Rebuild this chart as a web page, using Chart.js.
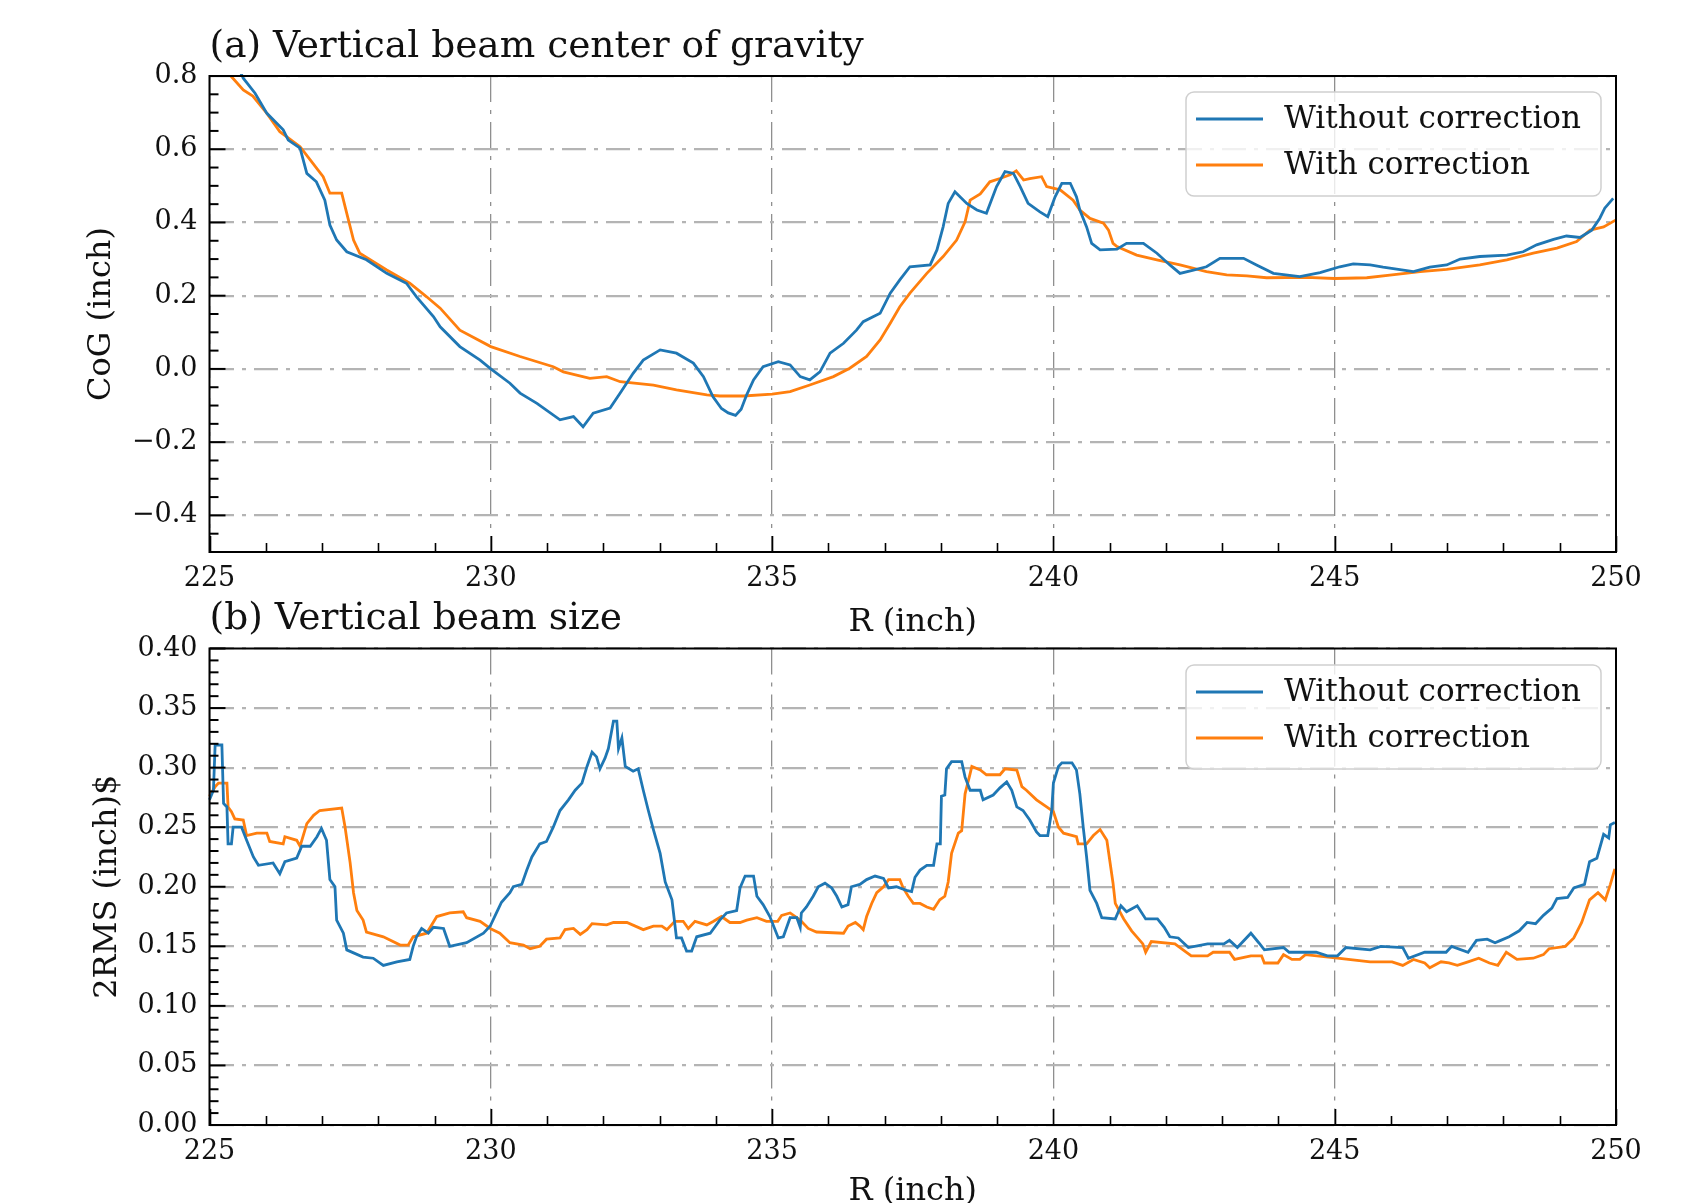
<!DOCTYPE html>
<html lang="en">

<head>
    <meta charset="UTF-8">
    <title>Vertical beam CoG and size vs R</title>
    <script src="https://cdn.jsdelivr.net/npm/chart.js"></script>
    <style>
        body { margin: 0; background: #fff; overflow: hidden; }
        #painel { position: relative; width: 1700px; height: 1203px; }
        canvas { position: absolute; left: 0; }
    </style>
</head>

<body>
    <div id="painel">
        <canvas id="chartCog" width="1700" height="650" style="top:0"></canvas>
        <canvas id="chartSize" width="1700" height="603" style="top:600px"></canvas>
    </div>

<script>
    // axis ticks
    const rTicks = [225, 230, 235, 240, 245, 250];
    const cogTicks = [-0.4, -0.2, 0.0, 0.2, 0.4, 0.6, 0.8];
    const sizeTicks = [0.00, 0.05, 0.10, 0.15, 0.20, 0.25, 0.30, 0.35, 0.40];

    const labelWithout = "Without correction";
    const labelWith = "With correction";

    // (a) vertical centre of gravity, [R, CoG] in inch
    const cogWithout = [
        [225.40, 0.860], [225.60, 0.794], [225.81, 0.753], [226.02, 0.698], [226.31, 0.653], [226.40, 0.625],
        [226.61, 0.603], [226.73, 0.534], [226.90, 0.511], [227.05, 0.461], [227.14, 0.393], [227.26, 0.352],
        [227.44, 0.320], [227.79, 0.298], [228.15, 0.261], [228.50, 0.234], [228.68, 0.197], [228.98, 0.143],
        [229.10, 0.115], [229.45, 0.061], [229.81, 0.024], [230.00, 0.000], [230.34, -0.039], [230.52, -0.066],
        [230.82, -0.094], [231.23, -0.139], [231.47, -0.130], [231.64, -0.158], [231.82, -0.121], [232.12, -0.107],
        [232.30, -0.066], [232.53, -0.012], [232.71, 0.024], [233.01, 0.052], [233.30, 0.043], [233.60, 0.016],
        [233.78, -0.021], [233.95, -0.076], [234.10, -0.108], [234.22, -0.120], [234.35, -0.127], [234.45, -0.110],
        [234.55, -0.070], [234.67, -0.030], [234.84, 0.006], [235.11, 0.020], [235.32, 0.011], [235.50, -0.021],
        [235.67, -0.030], [235.85, -0.008], [236.03, 0.043], [236.27, 0.070], [236.50, 0.106], [236.62, 0.129],
        [236.92, 0.152], [237.10, 0.207], [237.27, 0.243], [237.45, 0.279], [237.81, 0.284], [237.93, 0.325],
        [238.04, 0.388], [238.13, 0.452], [238.25, 0.484], [238.46, 0.452], [238.64, 0.434], [238.81, 0.425],
        [238.99, 0.498], [239.14, 0.539], [239.29, 0.534], [239.41, 0.498], [239.55, 0.452], [239.76, 0.429],
        [239.90, 0.416], [240.03, 0.470], [240.15, 0.507], [240.30, 0.507], [240.41, 0.470], [240.47, 0.434],
        [240.59, 0.388], [240.68, 0.343], [240.83, 0.325], [241.13, 0.327], [241.30, 0.343], [241.60, 0.343],
        [241.84, 0.316], [242.07, 0.284], [242.25, 0.261], [242.49, 0.270], [242.72, 0.279], [242.96, 0.302],
        [243.38, 0.302], [243.61, 0.284], [243.91, 0.261], [244.38, 0.252], [244.74, 0.263], [245.09, 0.279],
        [245.33, 0.287], [245.63, 0.284], [245.86, 0.278], [246.40, 0.266], [246.69, 0.278], [246.99, 0.284],
        [247.23, 0.300], [247.58, 0.307], [248.06, 0.311], [248.35, 0.320], [248.59, 0.339], [248.89, 0.354],
        [249.12, 0.363], [249.36, 0.359], [249.57, 0.379], [249.71, 0.411], [249.80, 0.439], [249.95, 0.466]
    ];
    const cogWith = [
        [225.38, 0.800], [225.60, 0.762], [225.77, 0.745], [226.02, 0.698], [226.25, 0.648], [226.61, 0.607],
        [226.79, 0.571], [227.02, 0.525], [227.14, 0.480], [227.35, 0.480], [227.44, 0.425], [227.56, 0.352],
        [227.67, 0.316], [228.15, 0.270], [228.56, 0.234], [228.86, 0.197], [229.10, 0.166], [229.45, 0.106],
        [230.00, 0.061], [230.52, 0.034], [231.11, 0.006], [231.29, -0.008], [231.76, -0.026], [232.06, -0.021],
        [232.30, -0.035], [232.89, -0.044], [233.30, -0.057], [233.84, -0.071], [234.07, -0.074], [234.49, -0.074],
        [235.00, -0.069], [235.32, -0.062], [235.67, -0.044], [236.09, -0.021], [236.38, 0.002], [236.68, 0.034],
        [236.92, 0.079], [237.10, 0.125], [237.27, 0.170], [237.45, 0.207], [237.75, 0.261], [238.04, 0.307],
        [238.28, 0.352], [238.43, 0.402], [238.52, 0.461], [238.70, 0.478], [238.87, 0.511], [239.05, 0.520],
        [239.23, 0.530], [239.34, 0.541], [239.47, 0.516], [239.58, 0.520], [239.79, 0.525], [239.88, 0.498],
        [240.12, 0.489], [240.35, 0.461], [240.47, 0.434], [240.65, 0.411], [240.89, 0.398], [240.98, 0.379],
        [241.06, 0.343], [241.13, 0.334], [241.48, 0.311], [241.84, 0.298], [242.25, 0.284], [242.72, 0.266],
        [243.08, 0.257], [243.44, 0.254], [243.79, 0.249], [244.50, 0.250], [245.00, 0.247], [245.57, 0.249],
        [245.98, 0.256], [246.52, 0.266], [246.99, 0.272], [247.58, 0.284], [248.06, 0.298], [248.53, 0.316],
        [248.95, 0.330], [249.30, 0.348], [249.54, 0.379], [249.78, 0.388], [250.00, 0.407]
    ];

    // (b) vertical beam size, [R, 2RMS] in inch
    const sizeWithout = [
        [225.00, 0.273], [225.07, 0.281], [225.10, 0.319], [225.22, 0.319], [225.25, 0.270], [225.31, 0.267],
        [225.33, 0.236], [225.39, 0.236], [225.42, 0.250], [225.57, 0.250], [225.66, 0.239], [225.78, 0.225],
        [225.87, 0.218], [226.13, 0.220], [226.25, 0.211], [226.34, 0.221], [226.55, 0.224], [226.64, 0.234],
        [226.79, 0.234], [226.91, 0.242], [226.99, 0.249], [227.08, 0.239], [227.14, 0.206], [227.23, 0.200],
        [227.26, 0.172], [227.38, 0.161], [227.44, 0.147], [227.73, 0.141], [227.91, 0.140], [228.09, 0.134],
        [228.33, 0.137], [228.56, 0.139], [228.62, 0.150], [228.68, 0.158], [228.77, 0.165], [228.89, 0.161],
        [228.98, 0.166], [229.16, 0.165], [229.27, 0.150], [229.57, 0.153], [229.87, 0.161], [229.99, 0.167],
        [230.10, 0.178], [230.19, 0.187], [230.34, 0.195], [230.40, 0.200], [230.55, 0.202], [230.64, 0.214],
        [230.73, 0.225], [230.87, 0.236], [230.99, 0.238], [231.11, 0.250], [231.23, 0.264], [231.38, 0.273],
        [231.50, 0.281], [231.62, 0.287], [231.71, 0.301], [231.80, 0.313], [231.88, 0.309], [231.94, 0.299],
        [232.03, 0.308], [232.09, 0.316], [232.18, 0.339], [232.24, 0.339], [232.27, 0.316], [232.33, 0.325],
        [232.39, 0.301], [232.53, 0.297], [232.62, 0.299], [232.71, 0.281], [232.80, 0.264], [232.89, 0.248],
        [233.01, 0.228], [233.10, 0.204], [233.22, 0.189], [233.30, 0.157], [233.39, 0.157], [233.48, 0.146],
        [233.57, 0.146], [233.66, 0.158], [233.90, 0.161], [234.07, 0.172], [234.19, 0.178], [234.37, 0.180],
        [234.43, 0.199], [234.52, 0.209], [234.67, 0.209], [234.73, 0.192], [234.84, 0.185], [234.96, 0.175],
        [235.11, 0.157], [235.20, 0.158], [235.32, 0.174], [235.44, 0.174], [235.50, 0.166], [235.52, 0.178],
        [235.61, 0.183], [235.73, 0.192], [235.82, 0.200], [235.94, 0.203], [236.06, 0.199], [236.15, 0.192],
        [236.24, 0.183], [236.35, 0.185], [236.41, 0.200], [236.56, 0.202], [236.68, 0.206], [236.83, 0.209],
        [236.98, 0.207], [237.07, 0.199], [237.21, 0.200], [237.39, 0.197], [237.48, 0.196], [237.54, 0.208],
        [237.63, 0.214], [237.75, 0.218], [237.87, 0.218], [237.93, 0.236], [237.99, 0.236], [238.01, 0.276],
        [238.07, 0.277], [238.10, 0.299], [238.19, 0.305], [238.37, 0.305], [238.43, 0.292], [238.52, 0.281],
        [238.70, 0.281], [238.75, 0.273], [238.93, 0.277], [239.05, 0.283], [239.17, 0.288], [239.26, 0.281],
        [239.35, 0.267], [239.46, 0.264], [239.58, 0.256], [239.70, 0.246], [239.76, 0.243], [239.90, 0.243],
        [239.97, 0.264], [240.00, 0.287], [240.09, 0.301], [240.15, 0.304], [240.33, 0.304], [240.41, 0.298],
        [240.47, 0.278], [240.53, 0.250], [240.59, 0.225], [240.65, 0.197], [240.77, 0.186], [240.86, 0.174],
        [241.10, 0.173], [241.20, 0.184], [241.30, 0.179], [241.49, 0.184], [241.64, 0.173], [241.85, 0.173],
        [241.97, 0.166], [242.07, 0.158], [242.22, 0.157], [242.40, 0.149], [242.74, 0.152], [243.03, 0.152],
        [243.13, 0.155], [243.27, 0.149], [243.51, 0.161], [243.65, 0.153], [243.75, 0.147], [244.09, 0.149],
        [244.19, 0.145], [244.67, 0.145], [244.87, 0.142], [245.05, 0.142], [245.20, 0.149], [245.63, 0.147],
        [245.82, 0.150], [246.21, 0.149], [246.31, 0.140], [246.60, 0.145], [246.98, 0.145], [247.08, 0.150],
        [247.37, 0.145], [247.52, 0.155], [247.71, 0.156], [247.85, 0.153], [247.95, 0.155], [248.10, 0.158],
        [248.28, 0.163], [248.42, 0.170], [248.57, 0.169], [248.71, 0.176], [248.86, 0.182], [248.95, 0.190],
        [249.14, 0.191], [249.25, 0.199], [249.44, 0.202], [249.53, 0.221], [249.66, 0.224], [249.78, 0.244],
        [249.87, 0.241], [249.90, 0.252], [249.98, 0.254]
    ];
    const sizeWith = [
        [225.00, 0.276], [225.10, 0.284], [225.16, 0.287], [225.31, 0.287], [225.33, 0.267], [225.39, 0.263],
        [225.45, 0.257], [225.60, 0.256], [225.66, 0.243], [225.84, 0.245], [226.02, 0.245], [226.07, 0.238],
        [226.31, 0.236], [226.34, 0.242], [226.55, 0.239], [226.61, 0.234], [226.73, 0.253], [226.85, 0.260],
        [226.96, 0.264], [227.35, 0.266], [227.41, 0.250], [227.50, 0.220], [227.56, 0.195], [227.62, 0.180],
        [227.73, 0.172], [227.79, 0.162], [228.09, 0.158], [228.39, 0.151], [228.53, 0.151], [228.62, 0.158],
        [228.86, 0.161], [229.04, 0.175], [229.27, 0.178], [229.51, 0.179], [229.57, 0.174], [229.81, 0.171],
        [229.99, 0.165], [230.16, 0.161], [230.34, 0.153], [230.58, 0.151], [230.70, 0.148], [230.87, 0.150],
        [230.99, 0.156], [231.23, 0.157], [231.32, 0.164], [231.47, 0.165], [231.59, 0.160], [231.71, 0.164],
        [231.80, 0.169], [232.06, 0.168], [232.18, 0.170], [232.42, 0.170], [232.71, 0.164], [232.89, 0.167],
        [233.04, 0.167], [233.13, 0.164], [233.27, 0.171], [233.42, 0.171], [233.51, 0.165], [233.63, 0.171],
        [233.84, 0.168], [233.96, 0.171], [234.10, 0.175], [234.25, 0.170], [234.43, 0.170], [234.55, 0.172],
        [234.73, 0.174], [234.90, 0.171], [235.10, 0.171], [235.17, 0.176], [235.32, 0.178], [235.50, 0.172],
        [235.64, 0.165], [235.79, 0.162], [236.27, 0.161], [236.35, 0.167], [236.48, 0.170], [236.56, 0.167],
        [236.62, 0.164], [236.68, 0.175], [236.77, 0.186], [236.86, 0.195], [236.98, 0.200], [237.07, 0.206],
        [237.27, 0.206], [237.33, 0.199], [237.42, 0.192], [237.51, 0.186], [237.63, 0.186], [237.75, 0.183],
        [237.87, 0.181], [237.98, 0.189], [238.07, 0.192], [238.13, 0.204], [238.19, 0.228], [238.31, 0.245],
        [238.37, 0.247], [238.43, 0.278], [238.52, 0.295], [238.55, 0.301], [238.70, 0.298], [238.81, 0.294],
        [239.05, 0.294], [239.14, 0.299], [239.35, 0.298], [239.44, 0.284], [239.52, 0.281], [239.70, 0.273],
        [239.88, 0.267], [240.00, 0.263], [240.09, 0.250], [240.18, 0.245], [240.41, 0.242], [240.44, 0.236],
        [240.59, 0.236], [240.71, 0.243], [240.83, 0.248], [240.95, 0.239], [241.06, 0.203], [241.10, 0.186],
        [241.25, 0.173], [241.39, 0.163], [241.59, 0.152], [241.64, 0.145], [241.74, 0.154], [242.16, 0.152],
        [242.45, 0.142], [242.74, 0.142], [242.84, 0.145], [243.13, 0.145], [243.22, 0.139], [243.51, 0.142],
        [243.70, 0.142], [243.75, 0.136], [243.99, 0.136], [244.09, 0.143], [244.24, 0.139], [244.38, 0.139],
        [244.48, 0.143], [245.05, 0.140], [245.63, 0.137], [246.02, 0.137], [246.21, 0.134], [246.40, 0.139],
        [246.60, 0.136], [246.69, 0.132], [246.89, 0.137], [247.03, 0.136], [247.18, 0.134], [247.37, 0.137],
        [247.56, 0.140], [247.75, 0.136], [247.90, 0.134], [248.05, 0.145], [248.24, 0.139], [248.53, 0.140],
        [248.71, 0.143], [248.81, 0.148], [249.10, 0.150], [249.25, 0.157], [249.39, 0.170], [249.53, 0.189],
        [249.68, 0.195], [249.81, 0.189], [249.90, 0.202], [249.98, 0.215]
    ];

    const AZUL = '#1f77b4';
    const LARANJA = '#ff7f0e';
    const SERIF = '"DejaVu Serif", serif';

    function pontos(lista) {
        return lista.map(p => ({ x: p[0], y: p[1] }));
    }

    function serie(label, lista, cor) {
        return {
            label: label,
            data: pontos(lista),
            borderColor: cor,
            borderWidth: 2.8,
            pointRadius: 0,
            tension: 0,
            fill: false,
            clip: 2
        };
    }

    // title, axis labels, inward ticks, frame and legend
    function decoracao(cfg) {
        return {
            id: 'decoracao',
            afterDraw(chart) {
                const ctx = chart.ctx;
                const a = chart.chartArea;
                const sx = chart.scales.x;
                const sy = chart.scales.y;
                ctx.save();

                // inward ticks, bottom
                ctx.strokeStyle = '#000';
                ctx.lineWidth = 1.6;
                for (let v = 225; v <= 250; v++) {
                    const px = Math.round(sx.getPixelForValue(v)) + 0.5;
                    const len = v % 5 === 0 ? 16 : 9;
                    ctx.beginPath();
                    ctx.moveTo(px, a.bottom);
                    ctx.lineTo(px, a.bottom - len);
                    ctx.stroke();
                }
                // inward ticks, left
                ctx.lineWidth = 2;
                const n = Math.round((cfg.yMax - cfg.yMin) / cfg.yMinor);
                for (let i = 0; i <= n; i++) {
                    const v = cfg.yMin + i * cfg.yMinor;
                    const major = cfg.yTicks.some(t => Math.abs(t - v) < 1e-6);
                    const py = sy.getPixelForValue(v);
                    ctx.beginPath();
                    ctx.moveTo(a.left, py);
                    ctx.lineTo(a.left + (major ? 16 : 9), py);
                    ctx.stroke();
                }

                // frame
                ctx.lineWidth = 2;
                ctx.strokeRect(a.left, a.top, a.right - a.left, a.bottom - a.top);

                // legend
                const lg = cfg.legend;
                ctx.beginPath();
                ctx.roundRect(lg.x, lg.y, lg.w, lg.h, 8);
                ctx.fillStyle = 'rgba(255,255,255,0.8)';
                ctx.fill();
                ctx.strokeStyle = '#cfcfcf';
                ctx.lineWidth = 1.5;
                ctx.stroke();
                ctx.font = '31px ' + SERIF;
                ctx.textBaseline = 'middle';
                ctx.textAlign = 'left';
                chart.data.datasets.forEach((ds, i) => {
                    const yy = lg.y + 27 + i * 46;
                    ctx.strokeStyle = ds.borderColor;
                    ctx.lineWidth = ds.borderWidth;
                    ctx.beginPath();
                    ctx.moveTo(lg.x + 10, yy);
                    ctx.lineTo(lg.x + 77, yy);
                    ctx.stroke();
                    ctx.fillStyle = '#111';
                    ctx.fillText(ds.label, lg.x + 98, yy + 1);
                });

                // panel title
                ctx.fillStyle = '#111';
                ctx.textBaseline = 'alphabetic';
                ctx.font = '37.5px ' + SERIF;
                ctx.fillText(cfg.title, a.left, cfg.titleY);

                // x axis label
                ctx.font = '32px ' + SERIF;
                ctx.textAlign = 'center';
                ctx.fillText(cfg.xLabel, (a.left + a.right) / 2, cfg.xLabelY);

                // y axis label
                ctx.translate(cfg.yLabelX, (a.top + a.bottom) / 2);
                ctx.rotate(-Math.PI / 2);
                ctx.textBaseline = 'middle';
                ctx.fillText(cfg.yLabel, 0, 0);

                ctx.restore();
            }
        };
    }

    function painel(canvasId, cfg) {
        return new Chart(document.getElementById(canvasId).getContext('2d'), {
            type: 'line',
            data: {
                datasets: [
                    serie(labelWithout, cfg.semCorrecao, AZUL),
                    serie(labelWith, cfg.comCorrecao, LARANJA)
                ]
            },
            options: {
                responsive: false,
                animation: false,
                devicePixelRatio: 1,
                layout: { padding: { left: 0, right: 84, top: cfg.top, bottom: 0 } },
                plugins: {
                    legend: { display: false },
                    tooltip: { enabled: false }
                },
                scales: {
                    x: {
                        type: 'linear',
                        min: 225,
                        max: 250,
                        afterBuildTicks: (s) => { s.ticks = rTicks.map(v => ({ value: v })); },
                        afterFit: (s) => { s.height = cfg.xAxisH; },
                        grid: { color: '#8f8f8f', lineWidth: 1.3, drawTicks: false },
                        border: { display: false, dash: [26, 8, 4, 8] },
                        ticks: {
                            autoSkip: false,
                            maxRotation: 0,
                            padding: 11,
                            color: '#111',
                            font: { family: SERIF, size: 27 },
                            callback: (v) => String(v)
                        }
                    },
                    y: {
                        type: 'linear',
                        min: cfg.yMin,
                        max: cfg.yMax,
                        afterBuildTicks: (s) => { s.ticks = cfg.yTicks.map(v => ({ value: v })); },
                        afterFit: (s) => { s.width = 209.5; },
                        grid: { color: '#b4b4b4', lineWidth: 2.2, drawTicks: false },
                        border: { display: false, dash: [24, 8, 4, 8] },
                        ticks: {
                            padding: 12,
                            color: '#111',
                            font: { family: SERIF, size: 27 },
                            callback: (v) => v.toFixed(cfg.decimals).replace('-', '\u2212')
                        }
                    }
                }
            },
            plugins: [decoracao(cfg)]
        });
    }

    painel('chartCog', {
        semCorrecao: cogWithout,
        comCorrecao: cogWith,
        yMin: -0.5, yMax: 0.8, yMinor: 0.05, yTicks: cogTicks, decimals: 1,
        top: 76, xAxisH: 98,
        title: '(a) Vertical beam center of gravity', titleY: 57,
        xLabel: 'R (inch)', xLabelY: 631,
        yLabel: 'CoG (inch)', yLabelX: 102,
        legend: { x: 1186, y: 92, w: 415, h: 104 }
    });

    painel('chartSize', {
        semCorrecao: sizeWithout,
        comCorrecao: sizeWith,
        yMin: 0, yMax: 0.4, yMinor: 0.01, yTicks: sizeTicks, decimals: 2,
        top: 48.5, xAxisH: 78,
        title: '(b) Vertical beam size', titleY: 29,
        xLabel: 'R (inch)', xLabelY: 600,
        yLabel: '2RMS (inch)$', yLabelX: 108,
        legend: { x: 1186, y: 65, w: 415, h: 104 }
    });
</script>
</body>

</html>
